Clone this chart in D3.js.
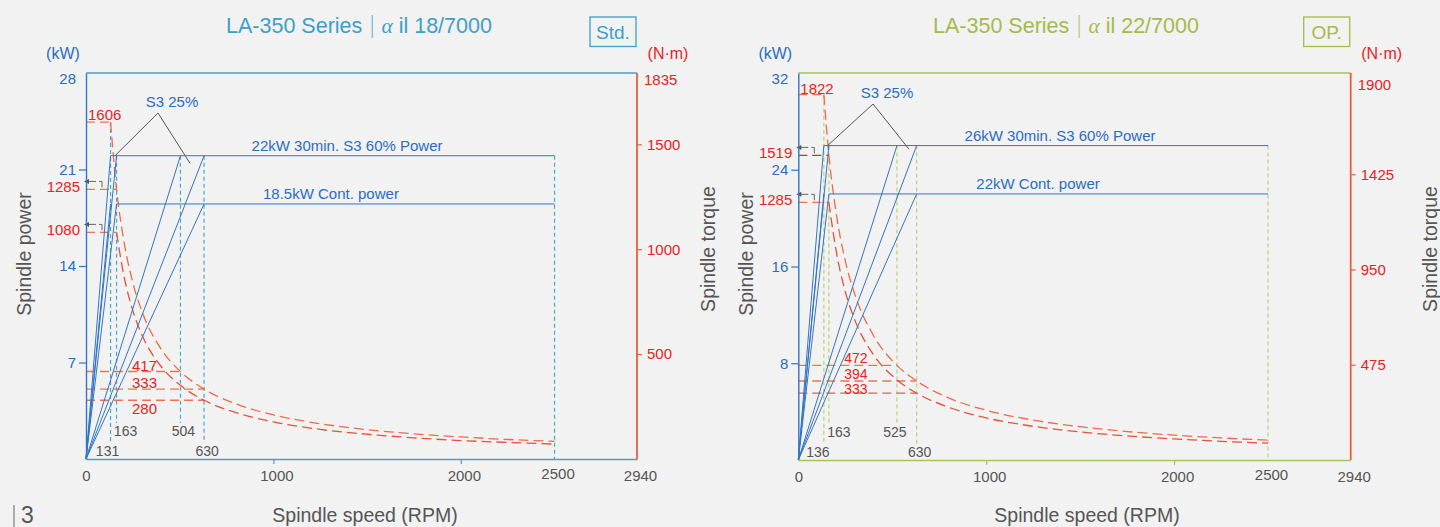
<!DOCTYPE html>
<html>
<head>
<meta charset="utf-8">
<script src="https://cdn.jsdelivr.net/npm/d3@7"></script>
<style>
  html, body { margin: 0; padding: 0; background: #f2f2f2; }
  svg { display: block; font-family: "Liberation Sans", Arial, sans-serif; }
</style>
</head>
<body>
<svg id="chart" width="1440" height="527"></svg>
<script>
const speedTicks = [0, 1000, 2000, 2500, 2940];
const speedMax = 2940;
const speedEnd = 2500;

// Std. : alpha il 18/7000
const stdPowerTicks = [7, 14, 21, 28];
const stdTorqueTicks = [500, 1000, 1500, 1835];
const stdPowerLevels = [22, 18.5];   // 30min S3 60%, continuous
const stdRamps = [[131, 22], [131, 18.5], [163, 22], [163, 18.5], [504, 22], [630, 22], [630, 18.5]];
const stdBaseSpeeds = [131, 163, 504, 630];
const stdTorqueSteps = [[1606, 131], [1285, 163], [1080, 163], [417, 504], [333, 630], [280, 630]];
const stdCurveHigh = [[131, 1606], [163, 1285], [200, 1050], [250, 840], [300, 700], [400, 525], [504, 417], [630, 333],
  [800, 263], [1000, 210], [1250, 168], [1500, 140], [1750, 120], [2000, 105], [2250, 93], [2500, 84]];
const stdCurveLow = [[163, 1080], [200, 883], [250, 707], [300, 589], [400, 442], [504, 351], [630, 280],
  [800, 221], [1000, 177], [1250, 141], [1500, 118], [1750, 101], [2000, 88], [2250, 79], [2500, 71]];

// OP. : alpha il 22/7000
const opPowerTicks = [8, 16, 24, 32];
const opTorqueTicks = [475, 950, 1425, 1900];
const opPowerLevels = [26, 22];
const opRamps = [[136, 26], [136, 22], [163, 26], [163, 22], [525, 26], [630, 26], [630, 22]];
const opBaseSpeeds = [136, 163, 525, 630];
const opTorqueSteps = [[1822, 136], [1519, 163], [1285, 163], [472, 525], [394, 630], [333, 630]];
const opCurveHigh = [[136, 1822], [163, 1519], [200, 1241], [250, 993], [300, 828], [400, 621], [525, 472], [630, 394],
  [800, 310], [1000, 248], [1250, 199], [1500, 166], [1750, 142], [2000, 124], [2250, 110], [2500, 99]];
const opCurveLow = [[163, 1285], [200, 1050], [250, 840], [300, 700], [400, 525], [525, 400], [630, 333],
  [800, 263], [1000, 210], [1250, 168], [1500, 140], [1750, 120], [2000, 105], [2250, 93], [2500, 84]];

const BLUE = "#3474c4", BLUE_TXT = "#2a6dbf", RED = "#e8221e", ORANGE = "#ee7350", GRAY = "#555";
const fmt = d3.format("d");

const charts = [
  {
    model: "il 18/7000", badge: "Std.", accent: "#3d9fc8", frame: "#4d9ccd", guide: "#44aad0",
    x0: 86, x1: 637, yTop: 73, yBottom: 459, torqueTop: 74, titleX: 359,
    powerMax: 28, torqueMax: 1835,
    powerTicks: stdPowerTicks, torqueTicks: stdTorqueTicks, powerLevels: stdPowerLevels,
    ramps: stdRamps, baseSpeeds: stdBaseSpeeds, torqueSteps: stdTorqueSteps,
    curveHigh: stdCurveHigh, curveLow: stdCurveLow,
    levelText: ["22kW 30min. S3 60% Power", "18.5kW Cont. power"], levelTextRpm: [1393, 1307],
    stepPos: ["start", "axis", "axis", "above", "above", "below"],
    stepDy: [-7, -3, -3, -6, -6, 8], stepFont: 15,
    stepColor: [ORANGE, ORANGE, ORANGE, ORANGE, ORANGE, ORANGE],
    rpmDx: [-3, 9, 3, 3],
    s3: { apex: [158, 113], ends: [[155, 22], [555, 21.45]] },
    powerTitleX: 24, torqueTitleX: 708, speedTitleX: 365
  },
  {
    model: "il 22/7000", badge: "OP.", accent: "#a4bb4c", frame: "#a9c25a", guide: "#bccf78",
    x0: 798.3, x1: 1350.7, yTop: 73, yBottom: 460, torqueTop: 79, titleX: 1066,
    powerMax: 32, torqueMax: 1900,
    powerTicks: opPowerTicks, torqueTicks: opTorqueTicks, powerLevels: opPowerLevels,
    ramps: opRamps, baseSpeeds: opBaseSpeeds, torqueSteps: opTorqueSteps,
    curveHigh: opCurveHigh, curveLow: opCurveLow,
    levelText: ["26kW 30min. S3 60% Power", "22kW Cont. power"], levelTextRpm: [1393, 1276],
    stepPos: ["start", "axis", "axis", "above", "above", "above"],
    stepDy: [-6, -3, -3, -7, -7, -4], stepFont: 14,
    stepColor: [ORANGE, "#e2262a", ORANGE, ORANGE, ORANGE, "#ea5a5a"],
    rpmDx: [-6, 10, -2, 3],
    s3: { apex: [873, 104], ends: [[156, 26], [589, 25.7]] },
    powerTitleX: 746, torqueTitleX: 1430, speedTitleX: 1087
  }
];

const svg = d3.select("#chart");

function drawChart(c) {
  const g = svg.append("g");
  const x = d3.scaleLinear().domain([0, speedMax]).range([c.x0, c.x1]);
  const yP = d3.scaleLinear().domain([0, c.powerMax]).range([c.yBottom, c.yTop]);
  const yT = d3.scaleLinear().domain([0, c.torqueMax]).range([c.yBottom, c.torqueTop]);

  // title + badge
  const title = g.append("text")
    .attr("x", c.titleX).attr("y", 25).attr("dy", "0.35em")
    .attr("text-anchor", "middle").attr("font-size", 21.5).attr("fill", c.accent);
  title.append("tspan").text("LA-350 Series ");
  title.append("tspan").attr("font-family", "DejaVu Sans ExtraLight, DejaVu Sans").attr("font-weight", 200)
    .attr("font-size", 23).attr("fill-opacity", 0.8).text("|");
  title.append("tspan").attr("font-family", "Liberation Serif").attr("font-style", "italic").text("  \u03B1");
  title.append("tspan").text(" " + c.model);

  g.append("rect")
    .attr("x", c.x1 - 47).attr("y", 17).attr("width", 46).attr("height", 29.5)
    .attr("fill", "none").attr("stroke", c.accent).attr("stroke-width", 1.3);
  g.append("text")
    .attr("x", c.x1 - 24).attr("y", 32).attr("dy", "0.35em")
    .attr("text-anchor", "middle").attr("font-size", 19).attr("fill", c.accent)
    .text(c.badge);

  // frame top
  g.append("line")
    .attr("x1", c.x0).attr("x2", c.x1).attr("y1", c.yTop).attr("y2", c.yTop)
    .attr("stroke", c.frame).attr("stroke-width", 1.4);

  // dashed base speed guides
  const guides = c.baseSpeeds.map((s, i) => ({
    rpm: s,
    top: i === 0 ? yT(c.torqueSteps[0][0]) : yP(c.powerLevels[0]),
    bottom: (i === 0 || i === 3) ? c.yBottom - 16 : c.yBottom - 36
  }));
  guides.push({ rpm: speedEnd, top: yP(c.powerLevels[0]), bottom: c.yBottom });
  g.append("g")
    .attr("stroke", c.guide).attr("stroke-width", 1.2).attr("stroke-dasharray", "4,3")
    .selectAll("line").data(guides).join("line")
    .attr("x1", d => x(d.rpm)).attr("x2", d => x(d.rpm))
    .attr("y1", d => d.top).attr("y2", d => d.bottom);

  // torque plateaus
  g.append("g")
    .attr("fill", "none").attr("stroke-width", 1.3).attr("stroke-dasharray", "9,5")
    .selectAll("line").data(c.torqueSteps).join("line")
    .attr("stroke", (d, i) => c.stepColor[i])
    .attr("x1", x(0)).attr("x2", d => x(d[1]))
    .attr("y1", d => yT(d[0])).attr("y2", d => yT(d[0]));

  // torque curves
  const line = d3.line().x(d => x(d[0])).y(d => yT(d[1])).curve(d3.curveMonotoneX);
  g.append("path").datum(c.curveHigh)
    .attr("d", line).attr("fill", "none").attr("stroke", "#ee6a48")
    .attr("stroke-width", 1.3).attr("stroke-dasharray", "10,5");
  g.append("path").datum(c.curveLow)
    .attr("d", line).attr("fill", "none").attr("stroke", "#e9503a")
    .attr("stroke-width", 1.3).attr("stroke-dasharray", "10,5");

  // power ramps
  g.append("g")
    .attr("stroke", BLUE).attr("stroke-width", 1)
    .selectAll("line").data(c.ramps).join("line")
    .attr("x1", x(0)).attr("y1", yP(0))
    .attr("x2", d => x(d[0])).attr("y2", d => yP(d[1]));

  // power levels
  g.append("g")
    .attr("stroke", BLUE).attr("stroke-width", 1)
    .selectAll("line").data(c.powerLevels).join("line")
    .attr("x1", (d, i) => x(c.baseSpeeds[i])).attr("x2", x(speedEnd))
    .attr("y1", d => yP(d)).attr("y2", d => yP(d));

  g.append("g")
    .attr("fill", BLUE_TXT).attr("font-size", 15).attr("text-anchor", "middle")
    .selectAll("text").data(c.powerLevels).join("text")
    .attr("x", (d, i) => x(c.levelTextRpm[i]))
    .attr("y", d => yP(d) - 10).attr("dy", "0.35em")
    .text((d, i) => c.levelText[i]);

  // S3 25% pointer
  const [ax, ay] = c.s3.apex;
  g.append("path")
    .attr("d", `M${x(c.s3.ends[0][0])},${yP(c.s3.ends[0][1])}L${ax},${ay}L${x(c.s3.ends[1][0])},${yP(c.s3.ends[1][1])}`)
    .attr("fill", "none").attr("stroke", "#555").attr("stroke-width", 1);
  g.append("text")
    .attr("x", ax + 14).attr("y", ay - 11).attr("dy", "0.35em")
    .attr("text-anchor", "middle").attr("font-size", 15).attr("fill", BLUE_TXT)
    .text("S3 25%");

  // torque step labels
  c.torqueSteps.forEach((d, i) => {
    const ty = yT(d[0]);
    const pos = c.stepPos[i];
    const t = g.append("text").attr("fill", RED).attr("dy", "0.35em")
      .attr("y", ty + c.stepDy[i]).text(d[0]);
    if (pos === "start") {
      t.attr("x", c.x0 + 2).attr("font-size", 15);
    } else if (pos === "axis") {
      t.attr("x", c.x0 - 6).attr("text-anchor", "end").attr("font-size", 15);
      const ay2 = ty - 8;
      g.append("path")
        .attr("d", `M${c.x0 + 16},${ty - 2}V${ay2}H${c.x0 + 2}`)
        .attr("fill", "none").attr("stroke", "#666").attr("stroke-width", 1)
        .attr("stroke-dasharray", "9,3");
      g.append("path")
        .attr("d", `M${c.x0 - 2},${ay2}l5,-2.5v5z`)
        .attr("fill", "#555");
    } else {
      t.attr("x", c.x0 + 46).attr("font-size", c.stepFont);
    }
  });

  // base speed labels
  g.append("g")
    .attr("fill", GRAY).attr("font-size", 14).attr("text-anchor", "middle")
    .selectAll("text").data(c.baseSpeeds).join("text")
    .attr("x", (d, i) => x(d) + c.rpmDx[i])
    .attr("y", (d, i) => (i === 0 || i === 3) ? c.yBottom - 8 : c.yBottom - 28)
    .attr("dy", "0.35em")
    .text(d => d);

  // left power axis
  const ax1 = g.append("g")
    .attr("transform", `translate(${c.x0},0)`)
    .call(d3.axisLeft(yP).tickValues(c.powerTicks).tickFormat(fmt).tickSize(7).tickPadding(3).tickSizeOuter(0));
  ax1.select(".domain").attr("stroke", BLUE).attr("stroke-width", 1.4);
  ax1.selectAll(".tick line").attr("stroke", BLUE).attr("stroke-width", 1.2);
  ax1.selectAll(".tick text").attr("fill", BLUE_TXT).attr("font-size", 15).attr("font-family", null);
  ax1.selectAll(".tick").filter(d => d === c.powerMax)
    .call(t => t.select("line").remove())
    .call(t => t.select("text").attr("y", 6));

  // right torque axis
  const ax2 = g.append("g")
    .attr("transform", `translate(${c.x1},0)`)
    .call(d3.axisRight(yT).tickValues(c.torqueTicks).tickFormat(fmt).tickSize(5).tickPadding(5).tickSizeOuter(0));
  ax2.select(".domain").remove();
  ax2.selectAll(".tick line").attr("stroke", "#e8603c").attr("stroke-width", 1.2);
  ax2.selectAll(".tick text").attr("fill", RED).attr("font-size", 15).attr("font-family", null);
  ax2.selectAll(".tick").filter(d => d === c.torqueMax)
    .call(t => t.select("line").remove())
    .call(t => t.select("text").attr("y", 6).attr("x", 7));
  g.append("line")
    .attr("x1", c.x1).attr("x2", c.x1).attr("y1", c.yTop).attr("y2", c.yBottom)
    .attr("stroke", "#e8603c").attr("stroke-width", 1.8);

  // speed axis
  const ax3 = g.append("g")
    .attr("transform", `translate(0,${c.yBottom})`)
    .call(d3.axisBottom(x).tickValues(speedTicks).tickFormat(fmt).tickSize(5).tickPadding(6).tickSizeOuter(0));
  ax3.select(".domain").attr("stroke", c.frame).attr("stroke-width", 1.6);
  ax3.selectAll(".tick line").attr("stroke", c.frame).attr("stroke-width", 1.2);
  ax3.selectAll(".tick").filter(d => d === 0 || d === 2500 || d === 2940).select("line").remove();
  ax3.selectAll(".tick text").attr("fill", GRAY).attr("font-size", 15).attr("font-family", null)
    .attr("dx", d => d === 0 ? 0 : 3)
    .attr("y", d => d === 2500 ? 9 : 11);

  // unit labels
  g.append("text").attr("x", c.x0 - 23).attr("y", 53).attr("dy", "0.35em")
    .attr("text-anchor", "middle").attr("font-size", 16).attr("fill", BLUE_TXT).text("(kW)");
  g.append("text").attr("x", c.x1 + 31).attr("y", 53).attr("dy", "0.35em")
    .attr("text-anchor", "middle").attr("font-size", 16).attr("fill", RED).text("(N\u00B7m)");

  // axis titles
  g.append("text")
    .attr("transform", `translate(${c.powerTitleX},254) rotate(-90)`).attr("dy", "0.35em")
    .attr("text-anchor", "middle").attr("font-size", 19.5).attr("fill", GRAY).text("Spindle power");
  g.append("text")
    .attr("transform", `translate(${c.torqueTitleX},249) rotate(-90)`).attr("dy", "0.35em")
    .attr("text-anchor", "middle").attr("font-size", 19.5).attr("fill", GRAY).text("Spindle torque");
  g.append("text")
    .attr("x", c.speedTitleX).attr("y", 515).attr("dy", "0.35em")
    .attr("text-anchor", "middle").attr("font-size", 19.5).attr("fill", GRAY).text("Spindle speed (RPM)");
}

charts.forEach(drawChart);

// page number
svg.append("line").attr("x1", 14).attr("x2", 14).attr("y1", 505).attr("y2", 527)
  .attr("stroke", "#666").attr("stroke-width", 1);
svg.append("text").attr("x", 21).attr("y", 515).attr("dy", "0.35em")
  .attr("font-size", 23).attr("fill", GRAY).text("3");
</script>
</body>
</html>
